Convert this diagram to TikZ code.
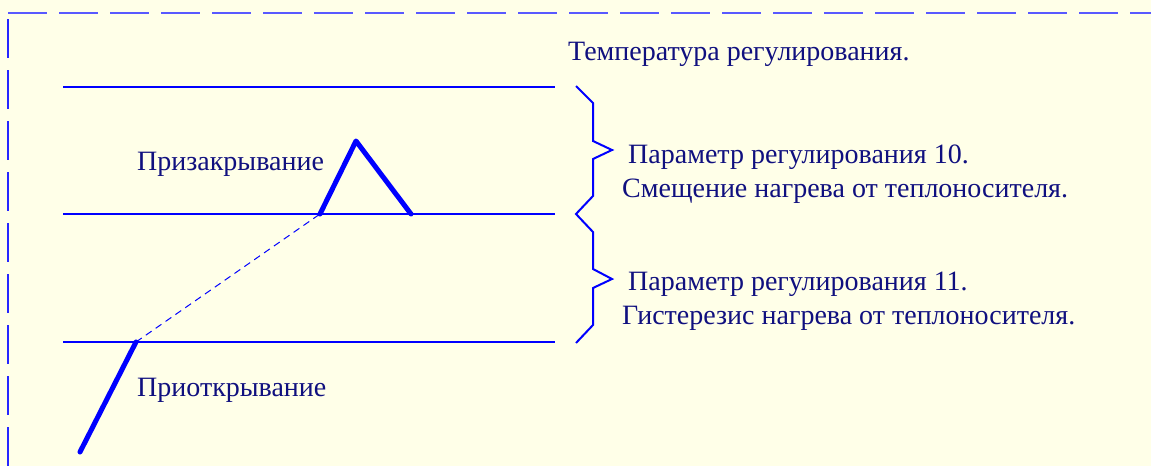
\documentclass[tikz,border=0pt]{standalone}
\usepackage{fontspec}
\setmainfont{Liberation Serif}
\usetikzlibrary{positioning}

\definecolor{paper}{HTML}{FFFFE8}
\definecolor{ink}{HTML}{0000FF}
\definecolor{textnavy}{HTML}{10107F}

\tikzset{
  frameline/.style={ink!65, line width=1.5pt, dash pattern=on 39pt off 12pt},
  levelline/.style={ink, line width=1.5pt},
  valveline/.style={ink, line width=5pt, line cap=round, line join=round},
  guideline/.style={ink, line width=1pt, dash pattern=on 7pt off 5pt},
  braceline/.style={ink, line width=2pt, line join=miter},
  lbl/.style={text=textnavy, font=\fontsize{28}{33}\selectfont, inner sep=0pt, anchor=west, align=left}
}

\begin{document}
\begin{tikzpicture}[x=1pt, y=-1pt]
  \fill[paper] (0,0) rectangle (1151,466);
  \useasboundingbox (0,0) rectangle (1151,466);
  % frame
  \coordinate (fa) at (8,13);   \coordinate (fb) at (1151,13);
  \coordinate (fc) at (8,19);   \coordinate (fd) at (8,466);
  \draw[frameline] (fa) -- (fb);
  \draw[frameline, ink!85] (fc) -- (fd);
  % levels
  \coordinate (t0) at (63,87);   \coordinate (t1) at (555,87);
  \coordinate (m0) at (63,214);  \coordinate (m1) at (555,214);
  \coordinate (b0) at (63,342);  \coordinate (b1) at (555,342);
  \draw[levelline] (t0) -- (t1);
  \draw[levelline] (m0) -- (m1);
  \draw[levelline] (b0) -- (b1);
  % valve characteristic
  \coordinate (o0) at (80,452);
  \coordinate (o1) at (136,342);
  \coordinate (c0) at (320,214);
  \coordinate (c1) at (356,141);
  \coordinate (c2) at (411,214);
  \draw[valveline] (o0) -- (o1);
  \draw[guideline] (o1) -- (c0);
  \draw[valveline] (c0) -- (c1) -- (c2);
  % braces
  \draw[braceline] (576,86) -- (593,103) -- (593,141) -- (612,150) -- (593,159)
    -- (593,196) -- (576,214) -- (593,232) -- (593,269) -- (612,279) -- (593,288)
    -- (593,325) -- (576,343);
  % texts
  \node[lbl] (treg) at (568,54) {Температура регулирования.};
  \node[lbl] (p10) at (628,157) {Параметр регулирования 10.};
  \node[lbl] (s10) at (622,191) {Смещение нагрева от теплоносителя.};
  \node[lbl] (p11) at (628,284) {Параметр регулирования 11.};
  \node[lbl] (s11) at (622,318) {Гистерезис нагрева от теплоносителя.};
  \node[lbl] (close) at (137,164) {Призакрывание};
  \node[lbl] (open) at (137,390) {Приоткрывание};
\end{tikzpicture}
\end{document}
